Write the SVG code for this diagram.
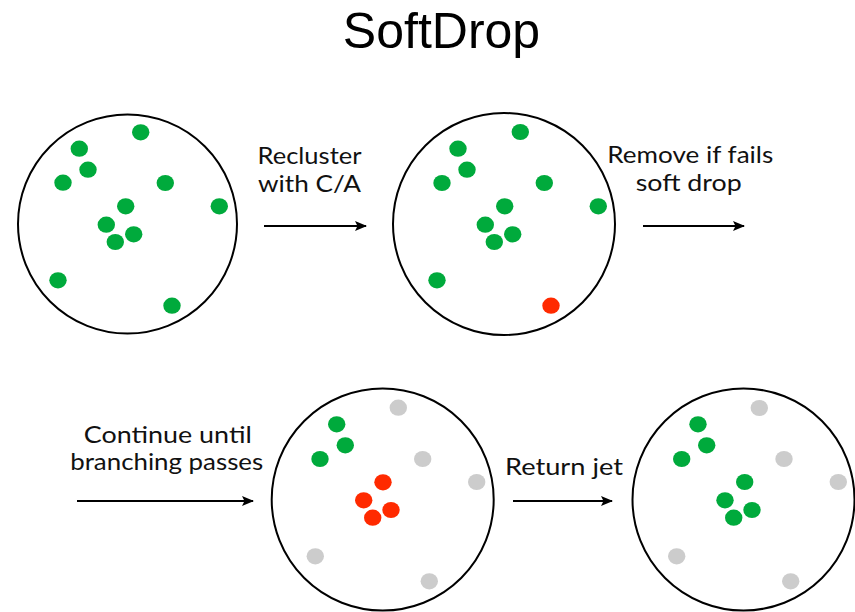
<svg xmlns="http://www.w3.org/2000/svg" width="855" height="612" viewBox="0 0 855 612">
<defs>
<style>
.ring{fill:#fff;stroke:#000;stroke-width:2}
.g{fill:#00AA3C}
.r{fill:#FF2A00}
.y{fill:#CCCCCC}
.lbl{font-family:Lato,"Open Sans",sans-serif;fill:#111;text-anchor:middle;font-size:23.5px}
.title{font-family:"Liberation Sans",Arial,sans-serif;font-size:50px;fill:#000;text-anchor:middle}
.arr{stroke:#000;stroke-width:2;fill:none;marker-end:url(#ah)}
</style>
<marker id="ah" viewBox="0 0 12 10" refX="11" refY="5" markerWidth="13" markerHeight="10" markerUnits="userSpaceOnUse" orient="auto">
<path d="M0,0 L12,5 L0,10 L2.5,5 Z" fill="#000"/>
</marker>
<ellipse id="d" rx="8.7" ry="8.1"/>
</defs>
<rect width="855" height="612" fill="#fff"/>
<text class="title" x="441.5" y="48">SoftDrop</text>

<g id="jet1">
<circle class="ring" cx="127.5" cy="224" r="109.5"/>
<g class="g">
<use href="#d" x="140.7" y="132.3"/><use href="#d" x="79.3" y="148.7"/><use href="#d" x="88" y="169.7"/>
<use href="#d" x="63" y="182.7"/><use href="#d" x="165.3" y="183"/><use href="#d" x="219.3" y="206.3"/>
<use href="#d" x="125.7" y="206.3"/><use href="#d" x="106.3" y="224.7"/><use href="#d" x="133.7" y="234.3"/>
<use href="#d" x="115.3" y="242"/><use href="#d" x="58" y="280.3"/><use href="#d" x="172" y="305.7"/>
</g>
</g>

<g id="jet2">
<circle class="ring" cx="504" cy="224" r="111"/>
<g class="g">
<use href="#d" x="520.3" y="132"/><use href="#d" x="458" y="148.7"/><use href="#d" x="467" y="169.7"/>
<use href="#d" x="442" y="183"/><use href="#d" x="544.3" y="183"/><use href="#d" x="598.3" y="206.3"/>
<use href="#d" x="504.7" y="206.3"/><use href="#d" x="485.3" y="224.7"/><use href="#d" x="512.7" y="234.3"/>
<use href="#d" x="494.3" y="242"/><use href="#d" x="437" y="280.3"/>
</g>
<use class="r" href="#d" x="551" y="305.7"/>
</g>

<g id="jet3">
<circle class="ring" cx="382.7" cy="499.5" r="111"/>
<g class="y">
<use href="#d" x="398.3" y="407.7"/><use href="#d" x="422.7" y="459"/><use href="#d" x="476.7" y="482"/>
<use href="#d" x="315.3" y="556.3"/><use href="#d" x="429.3" y="581.3"/>
</g>
<g class="g">
<use href="#d" x="336.7" y="424.3"/><use href="#d" x="345.3" y="445.3"/><use href="#d" x="320" y="459"/>
</g>
<g class="r">
<use href="#d" x="383" y="482.3"/><use href="#d" x="363.7" y="500.3"/><use href="#d" x="391" y="510"/><use href="#d" x="372.7" y="517.7"/>
</g>
</g>

<g id="jet4">
<circle class="ring" cx="743.5" cy="499.5" r="111"/>
<g class="y">
<use href="#d" x="759.3" y="408"/><use href="#d" x="784" y="459"/><use href="#d" x="838.3" y="482"/>
<use href="#d" x="676.7" y="556.3"/><use href="#d" x="790.7" y="581.3"/>
</g>
<g class="g">
<use href="#d" x="698" y="424.3"/><use href="#d" x="706.7" y="445.3"/><use href="#d" x="681.7" y="459"/>
<use href="#d" x="744.7" y="482"/><use href="#d" x="725" y="500.3"/><use href="#d" x="752" y="510"/><use href="#d" x="733.7" y="517.7"/>
</g>
</g>

<g id="connectors">
<line class="arr" x1="264" y1="226" x2="366" y2="226"/>
<line class="arr" x1="643" y1="226" x2="744" y2="226"/>
<line class="arr" x1="77" y1="501" x2="253" y2="501"/>
<line class="arr" x1="513" y1="501" x2="612" y2="501"/>
</g>

<g id="labels">
<text class="lbl" x="309.5" y="164" textLength="104" lengthAdjust="spacingAndGlyphs">Recluster</text>
<text class="lbl" x="309.5" y="191.5" textLength="103" lengthAdjust="spacingAndGlyphs">with C/A</text>
<text class="lbl" x="690.3" y="163.3" textLength="166" lengthAdjust="spacingAndGlyphs">Remove if fails</text>
<text class="lbl" x="688.7" y="191" textLength="106" lengthAdjust="spacingAndGlyphs">soft drop</text>
<text class="lbl" x="167.8" y="443.3" textLength="168" lengthAdjust="spacingAndGlyphs">Continue until</text>
<text class="lbl" x="166.7" y="470" textLength="193" lengthAdjust="spacingAndGlyphs">branching passes</text>
<text class="lbl" x="564" y="475" textLength="118" lengthAdjust="spacingAndGlyphs">Return jet</text>
</g>
</svg>
